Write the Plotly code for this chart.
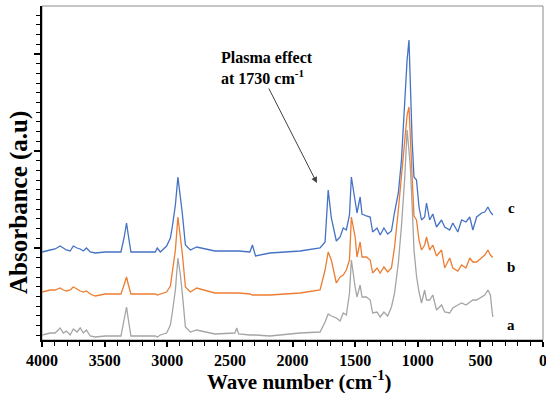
import plotly.graph_objects as go

# Wavenumbers (cm-1), shared grid
wavenumber = [4000, 3975, 3935, 3895, 3855, 3830, 3805, 3775, 3750, 3720,
              3695, 3670, 3645, 3615, 3575, 3495, 3370, 3345, 3325, 3310,
              3290, 3150, 3095, 3080, 3055, 3005, 2975, 2960, 2935, 2915,
              2895, 2880, 2855, 2815, 2765, 2620, 2460, 2445, 2430, 2340,
              2320, 2295, 2180, 1940, 1780, 1740, 1715, 1690, 1650, 1620,
              1595, 1570, 1545, 1530, 1500, 1485, 1460, 1445, 1410, 1380,
              1360, 1325, 1300, 1270, 1240, 1210, 1185, 1155, 1130, 1105,
              1085, 1070, 1060, 1045, 1030, 1010, 990, 970, 945, 930,
              905, 880, 850, 810, 785, 745, 720, 680, 650, 615,
              585, 560, 530, 490, 465, 440, 420, 405, 400]

# c : blue (plasma treated)
absorb_c = [0.88, 0.89, 0.90, 0.91, 0.94, 0.92, 0.90, 0.89, 0.94, 0.92,
            0.91, 0.89, 0.92, 0.88, 0.87, 0.88, 0.88, 1.02, 1.17, 1.04,
            0.88, 0.88, 0.88, 0.92, 0.88, 0.94, 1.02, 1.13, 1.35, 1.63,
            1.45, 1.27, 0.95, 0.90, 0.93, 0.89, 0.89, 0.89, 0.89, 0.88,
            0.95, 0.84, 0.87, 0.89, 0.92, 0.98, 1.50, 1.22, 0.99, 1.03,
            1.12, 1.10, 1.25, 1.63, 1.40, 1.27, 1.43, 1.26, 1.24, 1.23,
            1.08, 1.12, 1.05, 1.12, 1.06, 1.09, 1.28, 1.47, 1.80, 2.37,
            2.80, 3.00, 2.53, 2.00, 1.63, 1.60, 1.33, 1.20, 1.23, 1.37,
            1.20, 1.26, 1.13, 1.20, 1.13, 1.10, 1.17, 1.08, 1.20, 1.18,
            1.23, 1.10, 1.23, 1.27, 1.28, 1.33, 1.28, 1.25, 1.25]

# b : orange
absorb_b = [0.48, 0.49, 0.50, 0.50, 0.52, 0.50, 0.49, 0.50, 0.53, 0.51,
            0.49, 0.48, 0.49, 0.46, 0.44, 0.46, 0.46, 0.55, 0.63, 0.55,
            0.46, 0.46, 0.46, 0.45, 0.46, 0.48, 0.54, 0.67, 0.90, 1.23,
            1.05, 0.87, 0.53, 0.48, 0.52, 0.47, 0.47, 0.47, 0.47, 0.46,
            0.45, 0.45, 0.45, 0.47, 0.50, 0.70, 0.88, 0.80, 0.57, 0.63,
            0.65, 0.70, 0.80, 1.23, 1.03, 0.83, 0.98, 0.83, 0.83, 0.80,
            0.67, 0.72, 0.67, 0.73, 0.68, 0.72, 0.93, 1.30, 1.63, 2.03,
            2.25, 2.33, 2.10, 1.64, 1.24, 1.20, 1.00, 0.90, 0.95, 1.03,
            0.90, 0.95, 0.84, 0.90, 0.72, 0.82, 0.72, 0.69, 0.75, 0.72,
            0.82, 0.78, 0.78, 0.82, 0.85, 0.90, 0.85, 0.83, 0.83]

# a : gray
absorb_a = [0.05, 0.06, 0.07, 0.07, 0.12, 0.07, 0.09, 0.05, 0.11, 0.08,
            0.12, 0.07, 0.10, 0.04, 0.03, 0.04, 0.04, 0.20, 0.33, 0.20,
            0.04, 0.04, 0.04, 0.03, 0.05, 0.07, 0.15, 0.27, 0.50, 0.82,
            0.65, 0.47, 0.13, 0.08, 0.10, 0.06, 0.07, 0.12, 0.06, 0.05,
            0.05, 0.05, 0.04, 0.07, 0.08, 0.18, 0.26, 0.24, 0.22, 0.19,
            0.27, 0.25, 0.47, 0.80, 0.53, 0.43, 0.55, 0.43, 0.43, 0.40,
            0.27, 0.28, 0.23, 0.28, 0.24, 0.33, 0.47, 0.77, 1.14, 1.60,
            2.10, 1.92, 1.75, 1.35, 0.90, 0.64, 0.48, 0.37, 0.50, 0.40,
            0.40, 0.45, 0.30, 0.35, 0.28, 0.27, 0.32, 0.35, 0.37, 0.35,
            0.38, 0.40, 0.40, 0.43, 0.45, 0.50, 0.45, 0.27, 0.23]

series = [("a", absorb_a, "#A5A5A5"),
          ("b", absorb_b, "#ED7D31"),
          ("c", absorb_c, "#4472C4")]
label_y = {"a": 0.15, "b": 0.73, "c": 1.32}
label_x = 252

FONT = "Liberation Serif"

fig = go.Figure()
for name, vals, color in series:
    fig.add_trace(go.Scatter(x=wavenumber, y=vals, mode="lines", name=name,
                             line=dict(color=color, width=1.3),
                             showlegend=False, hoverinfo="skip"))

annotations = []
for name, _, _ in series:
    annotations.append(dict(x=label_x, y=label_y[name], xref="x", yref="y",
                            text="<b>%s</b>" % name, showarrow=False,
                            font=dict(family=FONT, size=15, color="black")))

# plasma effect annotation with arrow
annotations.append(dict(x=2586, y=2.72, xref="x", yref="y", xanchor="left",
                        yanchor="middle", align="left", showarrow=False,
                        text="<b>Plasma effect<br>at 1730 cm<sup>-1</sup></b>",
                        font=dict(family=FONT, size=16, color="black")))
annotations.append(dict(x=1805, y=1.57, ax=2195, ay=2.53, xref="x", yref="y",
                        axref="x", ayref="y", text="", showarrow=True,
                        arrowhead=2, arrowsize=1.2, arrowwidth=1,
                        arrowcolor="#404040"))
# axis titles
annotations.append(dict(x=0.513, y=0, xref="paper", yref="paper", yshift=-40,
                        yanchor="middle", showarrow=False,
                        text="<b>Wave number (cm<sup>-1</sup>)</b>",
                        font=dict(family=FONT, size=21, color="black")))
annotations.append(dict(x=0, y=0.41, xref="paper", yref="paper", xshift=-23,
                        xanchor="center", yanchor="middle", textangle=-90,
                        showarrow=False, text="<b>Absorbance (a.u)</b>",
                        font=dict(family=FONT, size=25, color="black")))

fig.update_layout(
    width=546, height=393,
    margin=dict(l=42, r=3, t=6, b=53, autoexpand=False),
    paper_bgcolor="white", plot_bgcolor="white",
    annotations=annotations,
    shapes=[dict(type="rect", xref="paper", yref="paper", x0=0, y0=0, x1=1, y1=1,
                 line=dict(color="#8c8c8c", width=1), layer="below")],
)
fig.update_xaxes(range=[4000, 0], tick0=0, dtick=500, showgrid=False, zeroline=False,
                 automargin=False,
                 showline=True, linecolor="black", linewidth=2,
                 ticks="outside", ticklen=5, tickwidth=1.5, tickcolor="black",
                 ticklabeloverflow="allow",
                 minor=dict(ticks="outside", dtick=100, ticklen=4, tickcolor="black", tickwidth=1),
                 tickfont=dict(family=FONT, size=16, color="black", weight="bold"))
fig.update_yaxes(range=[0, 3.34], tick0=0.92, dtick=0.97, showgrid=False, zeroline=False,
                 automargin=False,
                 showline=True, linecolor="black", linewidth=2, showticklabels=False,
                 ticks="outside", ticklen=6, tickwidth=1.5, tickcolor="black",
                 minor=dict(ticks="outside", tick0=0.92, dtick=0.097, ticklen=4,
                            tickcolor="black", tickwidth=1))

fig.write_html("out.html", config={"displayModeBar": False},
               post_script="document.body.style.margin='0';document.body.style.overflow='hidden';")
